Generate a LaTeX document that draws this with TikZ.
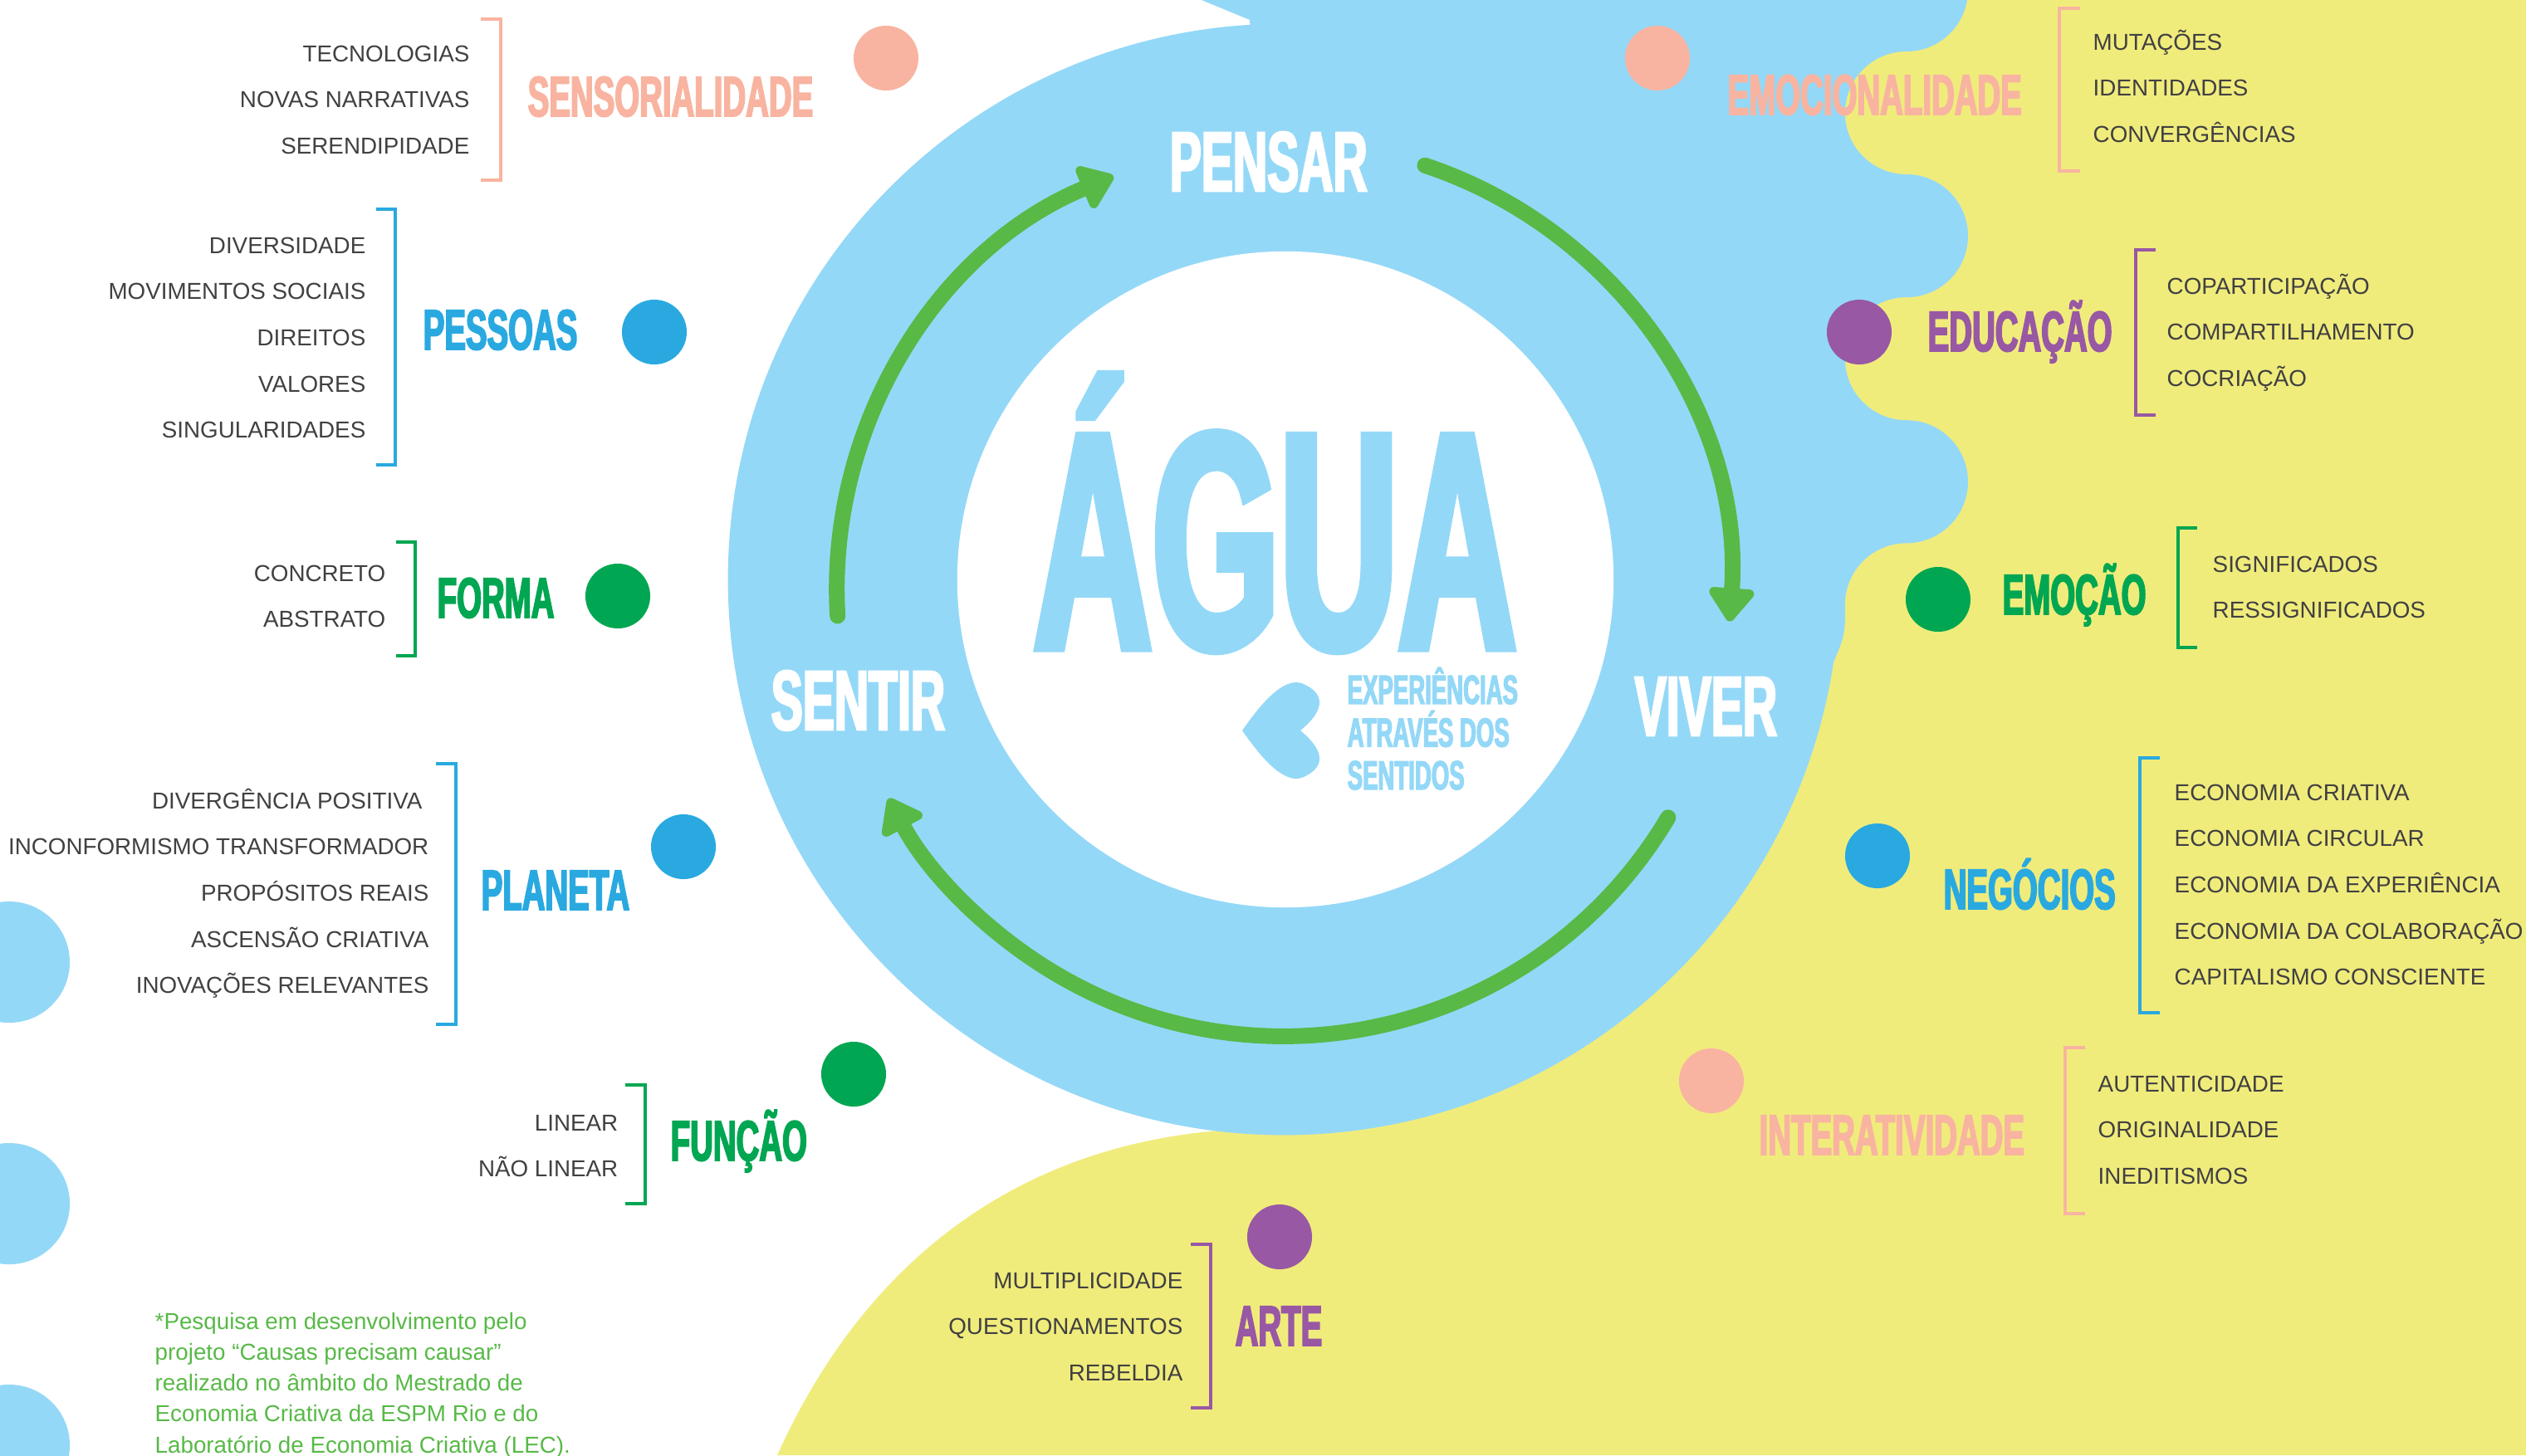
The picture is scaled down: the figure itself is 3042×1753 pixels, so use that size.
\documentclass[tikz,border=0pt]{standalone}
\usepackage{fontspec}
\setmainfont{Liberation Sans}
\newfontfamily\headfont[UprightFont={* Bold},FakeStretch=0.56,FakeBold=2.5]{Liberation Sans}
\newfontfamily\bigfont[UprightFont={* Bold},FakeStretch=0.53,FakeBold=2.5]{Liberation Sans}
\usetikzlibrary{arrows.meta}

\definecolor{aguaazul}{RGB}{148,216,247}
\definecolor{amarelo}{RGB}{240,236,124}
\definecolor{salmao}{RGB}{248,180,160}
\definecolor{azul}{RGB}{41,169,224}
\definecolor{verde}{RGB}{0,166,81}
\definecolor{roxo}{RGB}{152,88,164}
\definecolor{verdeseta}{RGB}{88,185,71}
\definecolor{cinza}{RGB}{65,64,66}

\begin{document}
\begin{tikzpicture}[x=0.01cm, y=-0.01cm,
  item/.style={font=\fontsize{7.9}{9}\selectfont, text=cinza, inner sep=0pt},
  itemE/.style={item, anchor=base east},
  itemW/.style={item, anchor=base west},
  titulo/.style={font=\headfont\fontsize{19.5}{20}\selectfont, inner sep=0pt, anchor=base west},
  ciclo/.style={font=\headfont\fontsize{29}{30}\selectfont, text=white, inner sep=0pt, anchor=base west},
  subt/.style={font=\headfont\fontsize{14}{14.65}\selectfont, text=aguaazul, inner sep=0pt},
  nota/.style={font=\fontsize{7.9}{9}\selectfont, text=verdeseta, inner sep=0pt, anchor=base west},
  bola/.style={circle, inner sep=0pt, minimum size=0.78cm},
  chave/.style={line width=0.034cm},
  seta/.style={draw=verdeseta, line width=0.19cm, line cap=round,
    -{Triangle[width=0.62cm,length=0.44cm,round]}}]
\useasboundingbox (0,0) rectangle (3042,1753);
\clip (0,0) rectangle (3042,1753);

% fundo
\fill[amarelo] (2200,0) -- (3042,0) -- (3042,1753) -- (936,1753)
  .. controls (1050,1500) and (1250,1370) .. (1500,1360) -- (1546,698) -- (2200,650) -- cycle;
\fill[aguaazul] (1546,698) circle[radius=6.69cm];
\fill[aguaazul] (1447,0) -- (2369,0)
  arc[start angle=-9.4, end angle=-90, radius=0.74cm]
  arc[start angle=90, end angle=270, radius=0.74cm]
  arc[start angle=90, end angle=-90, radius=0.74cm]
  arc[start angle=90, end angle=270, radius=0.74cm]
  arc[start angle=90, end angle=-90, radius=0.74cm]
  arc[start angle=90, end angle=180, radius=0.74cm]
  .. controls (2222,765) .. (2207,800)
  -- (1546,698) -- (1505,24) -- cycle;
\fill[white] (1548,698) circle[radius=3.95cm];
\foreach \y in {1159,1450,1741}
  \fill[aguaazul] (11,\y) circle[radius=0.73cm];

% ciclo
\coordinate (centro) at (1546,710);
\draw[seta] ([shift={(183.4:5.38cm)}]centro) arc[start angle=183.4, end angle=112.4, radius=5.38cm];
\draw[seta] ([shift={(71.6:5.38cm)}]centro) arc[start angle=71.6, end angle=-4.1, radius=5.38cm];
\draw[seta] ([shift={(-30.7:5.38cm)}]centro) arc[start angle=-30.7, end angle=-152.1, radius=5.38cm];
\node[ciclo] (pensar) at (1408,230) {PENSAR};
\node[ciclo] (sentir) at (928,879) {SENTIR};
\node[ciclo] (viver) at (1968,886) {VIVER};

% centro
\node[font=\bigfont\fontsize{106}{106}\selectfont, text=aguaazul, inner sep=0pt, text depth=0pt, anchor=base west] (agua) at (1244,781) {ÁGUA};
\fill[aguaazul] (1496,880) .. controls (1525,838) and (1550,815) .. (1570,824)
  .. controls (1592,834) and (1600,852) .. (1566,880)
  .. controls (1600,908) and (1592,926) .. (1570,936)
  .. controls (1550,945) and (1525,922) .. (1496,880) -- cycle;
\node[subt, align=left, anchor=base west] (exp) at (1622,951) {EXPERIÊNCIAS\\ATRAVÉS DOS\\SENTIDOS};

% bolas
\node[bola, fill=salmao] (bsens) at (1067,70) {};
\node[bola, fill=azul] (bpess) at (788,400) {};
\node[bola, fill=verde] (bforma) at (744,718) {};
\node[bola, fill=azul] (bplaneta) at (823,1020) {};
\node[bola, fill=verde] (bfuncao) at (1028,1294) {};
\node[bola, fill=salmao] (bemocio) at (1996,70) {};
\node[bola, fill=roxo] (beduc) at (2239,400) {};
\node[bola, fill=verde] (bemocao) at (2334,722) {};
\node[bola, fill=azul] (bnegoc) at (2261,1031) {};
\node[bola, fill=salmao] (binter) at (2061,1302) {};
\node[bola, fill=roxo] (barte) at (1541,1490) {};

% titulos
\node[titulo, text=salmao] (sens) at (635,140) {SENSORIALIDADE};
\node[titulo, text=azul] (pess) at (509,421) {PESSOAS};
\node[titulo, text=verde] (forma) at (526,744) {FORMA};
\node[titulo, text=azul] (planeta) at (579,1096) {PLANETA};
\node[titulo, text=verde] (funcao) at (807,1398) {FUNÇÃO};
\node[titulo, text=salmao] (emocio) at (2080,138) {EMOCIONALIDADE};
\node[titulo, text=roxo] (educ) at (2321,423) {EDUCAÇÃO};
\node[titulo, text=verde] (emocao) at (2411,740) {EMOÇÃO};
\node[titulo, text=azul] (negoc) at (2340,1095) {NEGÓCIOS};
\node[titulo, text=salmao] (inter) at (2118,1391) {INTERATIVIDADE};
\node[titulo, text=roxo] (arte) at (1487,1621) {ARTE};

% chaves
\draw[chave, salmao] (579,23) -- (603,23) -- (603,217) -- (579,217);
\draw[chave, azul] (453,252) -- (476,252) -- (476,560) -- (453,560);
\draw[chave, verde] (477,653) -- (500,653) -- (500,790) -- (477,790);
\draw[chave, azul] (525,920) -- (549,920) -- (549,1234) -- (525,1234);
\draw[chave, verde] (753,1307) -- (777,1307) -- (777,1450) -- (753,1450);
\draw[chave, roxo] (1434,1499) -- (1458,1499) -- (1458,1696) -- (1434,1696);
\draw[chave, salmao] (2505,10) -- (2480,10) -- (2480,206) -- (2505,206);
\draw[chave, roxo] (2596,301) -- (2572,301) -- (2572,500) -- (2596,500);
\draw[chave, verde] (2646,636) -- (2623,636) -- (2623,780) -- (2646,780);
\draw[chave, azul] (2601,913) -- (2577,913) -- (2577,1220) -- (2601,1220);
\draw[chave, salmao] (2511,1262) -- (2487,1262) -- (2487,1462) -- (2511,1462);

% itens
\foreach \t [count=\i] in {TECNOLOGIAS, NOVAS NARRATIVAS, SERENDIPIDADE}
  \node[itemE] (sens\i) at (566,{18.3+55.7*\i}) {\t};
\foreach \t [count=\i] in {DIVERSIDADE, MOVIMENTOS SOCIAIS, DIREITOS, VALORES, SINGULARIDADES}
  \node[itemE] (pess\i) at (441,{249.3+55.7*\i}) {\t};
\foreach \t [count=\i] in {CONCRETO, ABSTRATO}
  \node[itemE] (forma\i) at (465,{644.3+55.7*\i}) {\t};
\foreach \x/\t [count=\i] in {509/DIVERGÊNCIA POSITIVA, 517/INCONFORMISMO TRANSFORMADOR, 517/PROPÓSITOS REAIS, 517/ASCENSÃO CRIATIVA, 517/INOVAÇÕES RELEVANTES}
  \node[itemE] (planeta\i) at (\x,{918.3+55.7*\i}) {\t};
\foreach \t [count=\i] in {LINEAR, NÃO LINEAR}
  \node[itemE] (funcao\i) at (745,{1306.3+55.7*\i}) {\t};
\foreach \t [count=\i] in {MULTIPLICIDADE, QUESTIONAMENTOS, REBELDIA}
  \node[itemE] (arte\i) at (1425,{1496.3+55.7*\i}) {\t};
\foreach \t [count=\i] in {MUTAÇÕES, IDENTIDADES, CONVERGÊNCIAS}
  \node[itemW] (emocio\i) at (2520,{4.3+55.7*\i}) {\t};
\foreach \t [count=\i] in {COPARTICIPAÇÃO, COMPARTILHAMENTO, COCRIAÇÃO}
  \node[itemW] (educ\i) at (2609,{298.3+55.7*\i}) {\t};
\foreach \t [count=\i] in {SIGNIFICADOS, RESSIGNIFICADOS}
  \node[itemW] (emocao\i) at (2664,{633.3+55.7*\i}) {\t};
\foreach \t [count=\i] in {ECONOMIA CRIATIVA, ECONOMIA CIRCULAR, ECONOMIA DA EXPERIÊNCIA, ECONOMIA DA COLABORAÇÃO, CAPITALISMO CONSCIENTE}
  \node[itemW] (negoc\i) at (2618,{908.3+55.7*\i}) {\t};
\foreach \t [count=\i] in {AUTENTICIDADE, ORIGINALIDADE, INEDITISMOS}
  \node[itemW] (inter\i) at (2526,{1259.3+55.7*\i}) {\t};

% nota
\foreach \t [count=\i] in {{*Pesquisa em desenvolvimento pelo}, {projeto “Causas precisam causar”}, {realizado no âmbito do Mestrado de}, {Economia Criativa da ESPM Rio e do}, {Laboratório de Economia Criativa (LEC).}}
  \node[nota] (nota\i) at (186,{1563.7+37.3*\i}) {\t};
\end{tikzpicture}
\end{document}
